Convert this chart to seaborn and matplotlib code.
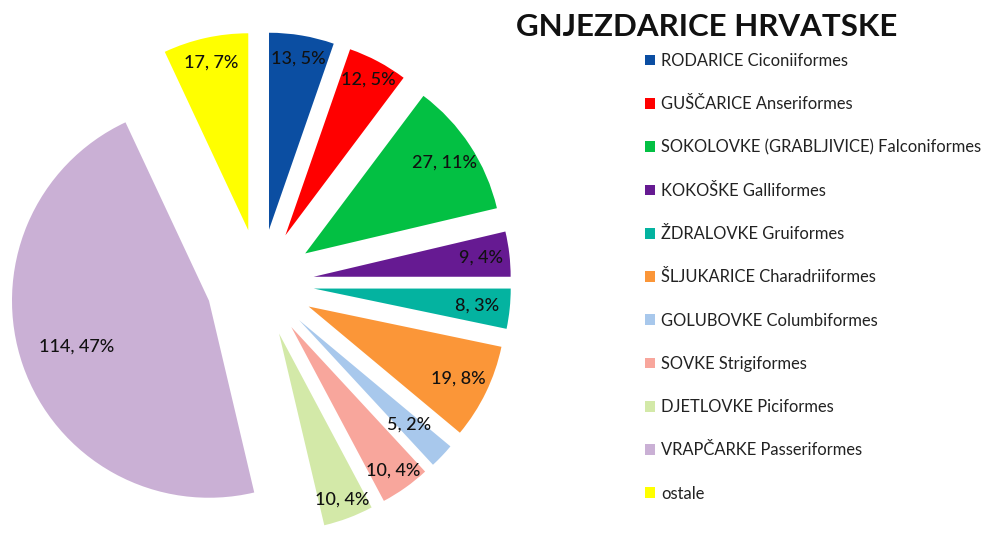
import numpy as np
import matplotlib
matplotlib.use('Agg')
import matplotlib.pyplot as plt
import seaborn as sns

# --- data ---
orders = [
    'RODARICE Ciconiiformes',
    'GUŠČARICE Anseriformes',
    'SOKOLOVKE (GRABLJIVICE) Falconiformes',
    'KOKOŠKE Galliformes',
    'ŽDRALOVKE Gruiformes',
    'ŠLJUKARICE Charadriiformes',
    'GOLUBOVKE Columbiformes',
    'SOVKE Strigiformes',
    'DJETLOVKE Piciformes',
    'VRAPČARKE Passeriformes',
    'ostale',
]
counts = [13, 12, 27, 9, 8, 19, 5, 10, 10, 114, 17]
colors = ['#0b4ea2', '#ff0000', '#03c043', '#661a92', '#04b3a0', '#fb9638',
          '#a8c8ec', '#f8a69c', '#d3e9a8', '#cab0d5', '#ffff00']

# distance of each slice label from its (exploded) slice tip, as fraction of radius
label_dist = [0.87, 0.88, 0.83, 0.84, 0.82, 0.83, 0.76, 0.88, 0.89, 0.70, 0.86]

sns.set_style('white')
plt.rcParams['font.family'] = ['Lato', 'DejaVu Sans']

fig = plt.figure(figsize=(9.82, 5.37), dpi=100)
ax = fig.add_axes([0, 0, 1, 1])

total = sum(counts)
labels = [f'{c}, {c / total * 100:.0f}%' for c in counts]

wedges, _ = ax.pie(counts, colors=colors, startangle=90, counterclock=False,
                   explode=[0.27] * len(counts), radius=0.985,
                   wedgeprops={'linewidth': 0})

for w, lab, d in zip(wedges, labels, label_dist):
    ang = np.deg2rad((w.theta1 + w.theta2) / 2)
    cx, cy = w.center
    ax.text(cx + d * np.cos(ang), cy + d * np.sin(ang), lab,
            ha='center', va='center', fontsize=13, color='#111111',
            fontweight='medium')

# pie centre sits at (260, 283) px, 200 px per unit
ax.set_xlim(-260 / 200, (982 - 260) / 200)
ax.set_ylim(-(537 - 283) / 200, 283 / 200)
ax.set_aspect('equal')
ax.axis('off')

fig.text(0.72, 0.95, 'GNJEZDARICE HRVATSKE', ha='center', va='center',
         fontsize=22.5, fontweight='bold', color='#111111')

fig.legend(wedges, orders, loc='upper left', bbox_to_anchor=(0.648, 0.917),
           frameon=False, fontsize=11.9, handlelength=0.63, handleheight=0.63,
           handletextpad=0.35, labelspacing=1.65, borderpad=0,
           labelcolor='#222222')

fig.savefig('out.png', dpi=100)
